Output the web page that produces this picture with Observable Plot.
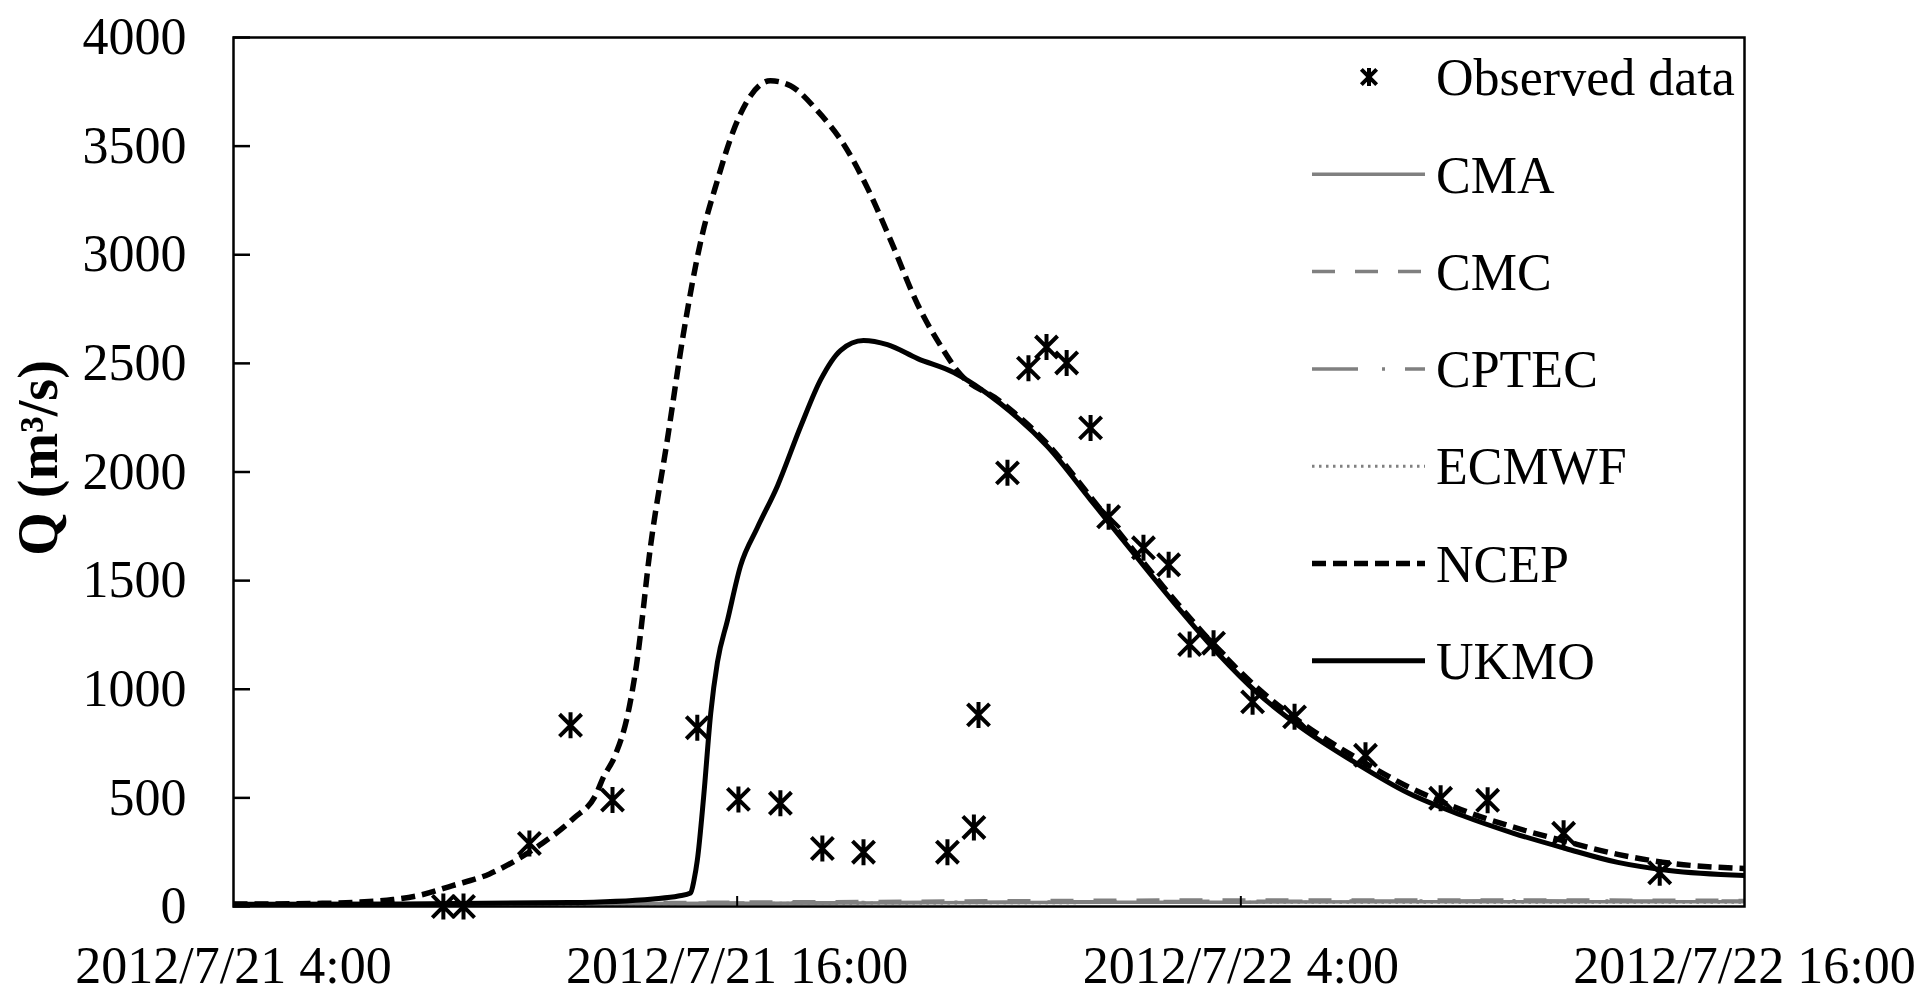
<!DOCTYPE html>
<html>
<head>
<meta charset="utf-8">
<script src="https://cdn.jsdelivr.net/npm/d3@7"></script>
<script src="https://cdn.jsdelivr.net/npm/@observablehq/plot@0.6"></script>
<style>
  html, body { margin: 0; padding: 0; background: #fff; overflow: hidden; }
  #chart svg { display: block; }
</style>
</head>
<body>
<div id="chart"></div>
<script>
// ---------------- data ----------------
const startTime = "2012-07-21T04:00Z";
const xTickTimes = ["2012-07-21T04:00Z", "2012-07-21T16:00Z", "2012-07-22T04:00Z", "2012-07-22T16:00Z"];
const xTickLabels = ["2012/7/21 4:00", "2012/7/21 16:00", "2012/7/22 4:00", "2012/7/22 16:00"];
const yTicks = [0, 500, 1000, 1500, 2000, 2500, 3000, 3500, 4000];
const yLabel = "Q (m³/s)";

// hours after 2012/7/21 4:00
const obsHours = [5.0, 5.48, 7.05, 8.03, 9.03, 11.05, 12.03, 13.03, 14.03, 15.01, 17.01, 17.64, 17.75, 18.44, 18.94, 19.37, 19.85, 20.42, 20.85, 21.68, 22.28, 22.78, 23.35, 24.28, 25.28, 26.97, 28.76, 29.88, 31.69, 33.98];
const obsQ     = [0, 0, 290, 834, 490, 823, 493, 475, 267, 250, 250, 364, 882, 1996, 2478, 2575, 2502, 2203, 1794, 1651, 1573, 1206, 1212, 942, 873, 696, 498, 489, 337, 155];

const ncepHours = [0, 1, 2, 3, 3.8, 4.4, 5.2, 6.1, 6.75, 7.35, 8.1, 8.65, 8.8, 9.08, 9.4, 9.6, 9.94, 10.34, 10.72, 11.13, 11.53, 11.91, 12.32, 12.79, 13.27, 13.91, 14.53, 15.1, 15.65, 16.3, 16.92, 17.25, 18.27, 19.4, 20.42, 21.44, 22.49, 23.45, 24.4, 25.45, 26.7, 28.0, 29.26, 30.5, 31.74, 32.98, 34.2, 36];
const ncepQ     = [12, 12, 14, 20, 32, 50, 95, 150, 215, 290, 405, 521, 590, 690, 890, 1110, 1664, 2153, 2637, 3060, 3343, 3571, 3732, 3801, 3778, 3663, 3511, 3309, 3070, 2771, 2559, 2465, 2325, 2128, 1885, 1640, 1395, 1185, 1005, 845, 690, 550, 445, 365, 300, 240, 200, 175];

const ukmoHours = [0, 4, 8, 10, 10.6, 10.89, 10.97, 11.05, 11.2, 11.37, 11.53, 11.77, 12.08, 12.48, 12.96, 13.51, 13.99, 14.46, 15.01, 15.58, 16.3, 17.16, 18.27, 19.4, 20.42, 21.44, 22.49, 23.45, 24.4, 25.45, 26.7, 28.0, 29.26, 30.5, 31.74, 32.98, 34.2, 36];
const ukmoQ     = [10, 12, 18, 35, 48, 62, 120, 212, 502, 890, 1125, 1318, 1568, 1743, 1936, 2208, 2425, 2559, 2605, 2586, 2522, 2458, 2315, 2116, 1872, 1627, 1379, 1166, 982, 822, 665, 521, 420, 337, 267, 203, 166, 143];

const grayHours = [0, 6, 12, 18, 24, 30, 36];
const cmaQ   = [10, 12, 15, 18, 20, 22, 22];
const cmcQ   = [10, 14, 20, 26, 30, 30, 28];
const cptecQ = [10, 12, 16, 20, 24, 26, 25];
const ecmwfQ = [10, 11, 14, 17, 19, 20, 20];

// ---------------- build ----------------
const t0 = new Date(startTime);
const toDate = h => new Date(+t0 + h * 3600000);
const xTicks = xTickTimes.map(s => new Date(s));
const series = (hours, q) => hours.map((h, i) => ({t: toDate(h), q: q[i]}));

const obs = series(obsHours, obsQ);
const ncep = series(ncepHours, ncepQ);
const ukmo = series(ukmoHours, ukmoQ);
const cma = series(grayHours, cmaQ);
const cmc = series(grayHours, cmcQ);
const cptec = series(grayHours, cptecQ);
const ecmwf = series(grayHours, ecmwfQ);

const GRAY = "#808080";
const styles = {
  CMA:   {stroke: GRAY, strokeWidth: 3.5, strokeDasharray: null},
  CMC:   {stroke: GRAY, strokeWidth: 3.5, strokeDasharray: "23,20"},
  CPTEC: {stroke: GRAY, strokeWidth: 3.5, strokeDasharray: "46,24,3,20"},
  ECMWF: {stroke: GRAY, strokeWidth: 3, strokeDasharray: "2.5,4.5"},
  NCEP:  {stroke: "#000", strokeWidth: 5.5, strokeDasharray: "14,7"},
  UKMO:  {stroke: "#000", strokeWidth: 5, strokeDasharray: null}
};

// star marker: X plus vertical bar
const star = {
  draw(context, size) {
    const r = Math.sqrt(size / Math.PI);
    const d = r * 0.85;
    context.moveTo(-d, -d); context.lineTo(d, d);
    context.moveTo(d, -d); context.lineTo(-d, d);
    context.moveTo(0, -r); context.lineTo(0, r);
  }
};

const lineOpts = (name) => ({x: "t", y: "q", curve: "monotone-x", ...styles[name], strokeLinecap: "butt"});

const chart = Plot.plot({
  width: 1923,
  height: 995,
  marginLeft: 233,
  marginRight: 179,
  marginTop: 37,
  marginBottom: 89,
  style: {fontFamily: "'Liberation Serif', 'Times New Roman', serif", fontSize: "52px", background: "#fff", color: "#000"},
  x: {type: "utc", domain: [xTicks[0], xTicks[3]]},
  y: {domain: [0, 4000]},
  marks: [
    Plot.line(cma, lineOpts("CMA")),
    Plot.line(cmc, lineOpts("CMC")),
    Plot.line(cptec, lineOpts("CPTEC")),
    Plot.line(ecmwf, lineOpts("ECMWF")),
    Plot.line(ukmo, lineOpts("UKMO")),
    Plot.line(ncep, lineOpts("NCEP")),
    Plot.dot(obs, {x: "t", y: "q", symbol: star, r: 13, stroke: "#000", strokeWidth: 4}),
    // inward y ticks
    Plot.axisY({ticks: yTicks, tickSize: 17, dx: 17, tickFormat: () => "", label: null, strokeWidth: 2.5}),
    // y tick labels
    Plot.axisY({ticks: yTicks, tickSize: 0, tickPadding: 47, tickFormat: d => String(d), label: null}),
    // inward x ticks (interior only)
    Plot.axisX({ticks: xTicks.slice(1, 3), tickSize: 10, dy: -10, tickFormat: () => "", label: null, strokeWidth: 2}),
    // x tick labels
    Plot.axisX({ticks: xTicks, tickSize: 0, tickPadding: 40, tickFormat: d => xTickLabels[xTicks.findIndex(t => +t === +d)], label: null}),
    Plot.frame({stroke: "#000", strokeWidth: 2.5})
  ]
});

document.getElementById("chart").appendChild(chart);

const svg = d3.select(chart);

// y-axis title
svg.append("text")
  .attr("transform", "translate(38,458) rotate(-90)")
  .attr("text-anchor", "middle")
  .attr("dominant-baseline", "central")
  .attr("font-family", "'Liberation Serif', 'Times New Roman', serif")
  .attr("font-weight", "bold")
  .attr("font-size", 56)
  .attr("fill", "#000")
  .text(yLabel);

// legend
const legendItems = ["Observed data", "CMA", "CMC", "CPTEC", "ECMWF", "NCEP", "UKMO"];
const lg = svg.append("g")
  .attr("font-family", "'Liberation Serif', 'Times New Roman', serif")
  .attr("font-size", 52)
  .attr("text-anchor", "start")
  .attr("fill", "#000");
legendItems.forEach((name, i) => {
  const y = 77 + i * 97.3;
  if (name === "Observed data") {
    const p = d3.path();
    star.draw(p, Math.PI * 9 * 9);
    lg.append("path").attr("d", p.toString())
      .attr("transform", `translate(1369,${y})`)
      .attr("stroke", "#000").attr("stroke-width", 4).attr("fill", "none");
  } else {
    const s = styles[name];
    lg.append("line")
      .attr("x1", 1312).attr("x2", 1425).attr("y1", y).attr("y2", y)
      .attr("stroke", s.stroke).attr("stroke-width", s.strokeWidth)
      .attr("stroke-dasharray", s.strokeDasharray);
  }
  lg.append("text").attr("x", 1436).attr("y", y).attr("dy", "0.35em").attr("text-anchor", "start").text(name);
});
</script>
</body>
</html>
